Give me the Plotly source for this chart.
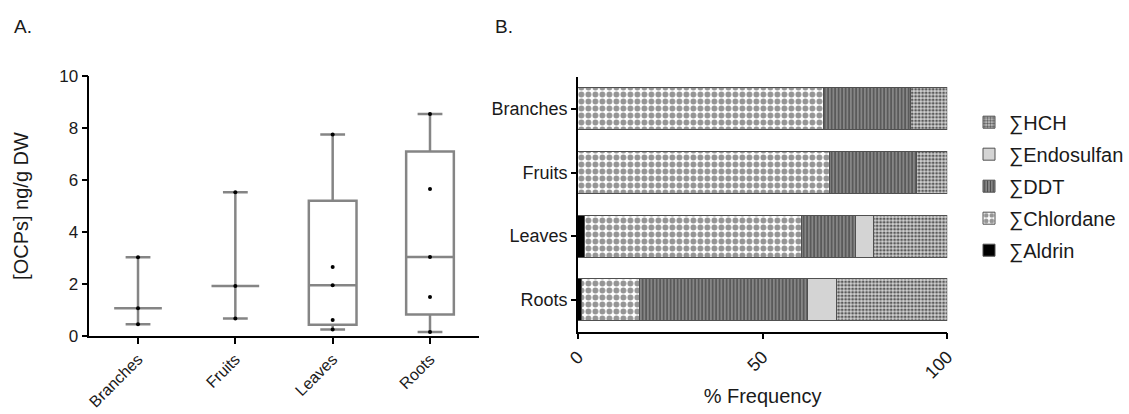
import plotly.graph_objects as go

# ---------------- data ----------------
tissues = ["Branches", "Fruits", "Leaves", "Roots"]

# total OCP concentrations (ng/g DW), individual samples per tissue
branches_vals = [0.45, 1.07, 3.03]
fruits_vals = [0.67, 1.92, 5.53]
leaves_vals = [0.25, 0.62, 1.95, 2.65, 7.75]
roots_vals = [0.15, 1.50, 3.04, 5.65, 8.54]

# share of each OCP class in the total (% frequency)
aldrin_pct = [0.0, 0.0, 1.9, 0.9]
chlordane_pct = [66.4, 68.1, 58.7, 15.9]
ddt_pct = [23.6, 23.7, 14.6, 45.4]
endosulfan_pct = [0.0, 0.0, 4.7, 7.9]
hch_pct = [10.0, 8.2, 20.1, 29.9]

y_ticks = [0, 2, 4, 6, 8, 10]
x2_ticks = [0, 50, 100]

FONT = "Liberation Sans"
INK = "#1a1a1a"


def percentile(vals, p):
    """Percentile with rank p*(n+1), linear interpolation."""
    s = sorted(vals)
    n = len(s)
    r = p * (n + 1)
    if r <= 1:
        return s[0]
    if r >= n:
        return s[-1]
    lo = int(r)
    frac = r - lo
    return s[lo - 1] + frac * (s[lo] - s[lo - 1])


groups = [branches_vals, fruits_vals, leaves_vals, roots_vals]
q1, med, q3, lo_f, hi_f = [], [], [], [], []
for g in groups:
    m = percentile(g, 0.5)
    med.append(m)
    lo_f.append(min(g))
    hi_f.append(max(g))
    if len(g) >= 4:
        q1.append(percentile(g, 0.25))
        q3.append(percentile(g, 0.75))
    else:
        # too few samples for a box: only median line and range whiskers
        q1.append(m)
        q3.append(m)

fig = go.Figure()

# ---------------- panel A: box plots ----------------
fig.add_trace(go.Box(
    x=tissues, q1=q1, median=med, q3=q3, lowerfence=lo_f, upperfence=hi_f,
    xaxis="x", yaxis="y",
    line=dict(color="#858585", width=2.5),
    fillcolor="rgba(0,0,0,0)", whiskerwidth=0.52,
    boxpoints=False, showlegend=False, hoverinfo="skip",
))

pts_x, pts_y = [], []
for t, g in zip(tissues, groups):
    pts_x += [t] * len(g)
    pts_y += g
fig.add_trace(go.Scatter(
    x=pts_x, y=pts_y, mode="markers", xaxis="x", yaxis="y",
    marker=dict(color="black", size=4), showlegend=False, hoverinfo="skip",
))

# ---------------- panel B: stacked composition ----------------
edge = dict(color="#505050", width=1)
series = [
    ("\u2211Aldrin", aldrin_pct, 5, dict(color="black", line=edge)),
    ("\u2211Chlordane", chlordane_pct, 4,
     dict(color="white", line=edge,
          pattern=dict(shape=".", fgcolor="#959595", bgcolor="white",
                       size=7, solidity=0.55, fillmode="replace"))),
    ("\u2211DDT", ddt_pct, 3,
     dict(color="#808080", line=edge,
          pattern=dict(shape="|", fgcolor="#474747", bgcolor="#868686",
                       size=3.5, solidity=0.35, fillmode="replace"))),
    ("\u2211Endosulfan", endosulfan_pct, 2, dict(color="#d4d4d4", line=edge)),
    ("\u2211HCH", hch_pct, 1,
     dict(color="white", line=edge,
          pattern=dict(shape=".", fgcolor="#5a5a5a", bgcolor="#d2d2d2",
                       size=3.5, solidity=0.5, fillmode="replace"))),
]
for name, vals, rank, mk in series:
    fig.add_trace(go.Bar(
        y=tissues, x=vals, orientation="h", name=name, legendgroup=name,
        legendrank=rank, xaxis="x2", yaxis="y2", marker=mk, hoverinfo="skip",
    ))

axis_common = dict(
    showline=True, linecolor="black", linewidth=1.5,
    ticks="outside", ticklen=6, tickwidth=1.5, tickcolor="black",
    showgrid=False, zeroline=False, automargin=False,
    tickfont=dict(family=FONT, size=17, color=INK),
)

fig.update_layout(
    width=1129, height=414, autosize=False,
    margin=dict(l=0, r=0, t=0, b=0),
    paper_bgcolor="white", plot_bgcolor="white",
    font=dict(family=FONT, color=INK),
    barmode="stack", bargap=0.34, boxgap=0.3,
    xaxis=dict(
        axis_common, domain=[0.0797, 0.427], type="category",
        categoryorder="array", categoryarray=tissues, range=[-0.5, 3.5],
        tickangle=-45, anchor="y",
        tickfont=dict(family=FONT, size=16, color=INK),
    ),
    yaxis=dict(
        axis_common, domain=[0.1884, 0.8164], range=[0, 10],
        tickvals=y_ticks, anchor="x",
        title=dict(text="[OCPs] ng/g DW", standoff=25,
                   font=dict(family=FONT, size=20, color=INK)),
    ),
    xaxis2=dict(
        axis_common, domain=[0.5155, 0.845], range=[0, 100],
        tickvals=x2_ticks, tickangle=-45, anchor="y2",
        tickfont=dict(family=FONT, size=18, color=INK),
        title=dict(text="% Frequency", standoff=8,
                   font=dict(family=FONT, size=20, color=INK)),
    ),
    yaxis2=dict(
        axis_common, domain=[0.1988, 0.814], type="category",
        categoryorder="array", categoryarray=tissues[::-1],
        range=[-0.5, 3.5], anchor="x2", ticklen=5,
        tickfont=dict(family=FONT, size=18, color=INK),
    ),
    legend=dict(
        x=0.8645, y=0.752, xanchor="left", yanchor="top",
        traceorder="grouped", tracegroupgap=3,
        font=dict(family=FONT, size=20, color=INK),
        bgcolor="rgba(0,0,0,0)",
    ),
    annotations=[
        dict(text="A.", x=0.0106, y=0.935, xref="paper", yref="paper",
             xanchor="left", yanchor="middle", showarrow=False,
             font=dict(family=FONT, size=19, color=INK)),
        dict(text="B.", x=0.44, y=0.935, xref="paper", yref="paper",
             xanchor="left", yanchor="middle", showarrow=False,
             font=dict(family=FONT, size=19, color=INK)),
    ],
)

fig.write_html("out.html")
